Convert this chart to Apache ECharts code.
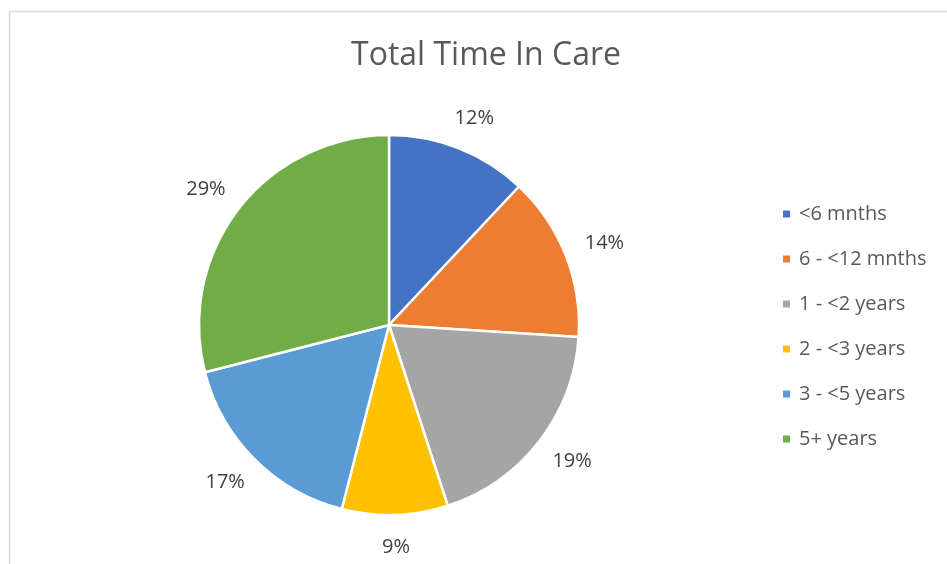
<!DOCTYPE html>
<html>
<head>
<meta charset="utf-8">
<script src="https://cdn.jsdelivr.net/npm/echarts@6/dist/echarts.min.js"></script>
<style>
html,body{margin:0;padding:0;background:#fff;}
#chart{width:947px;height:564px;}
</style>
</head>
<body>
<div id="chart"></div>
<script>
const categories = ['<6 mnths', '6 - <12 mnths', '1 - <2 years', '2 - <3 years', '3 - <5 years', '5+ years'];
const values = [12, 14, 19, 9, 17, 29];
const colors = ['#4472C4', '#ED7D31', '#A5A5A5', '#FFC000', '#5B9BD5', '#70AD47'];
const titleText = 'Total Time In Care';

const FONT = '"Open Sans", sans-serif';
const CX = 389, CY = 325, R = 190, GAP = 22;
const total = values.reduce((a, b) => a + b, 0);

function labelPos(params) {
  const i = params.dataIndex;
  let before = 0;
  for (let k = 0; k < i; k++) before += values[k];
  const theta = (before + values[i] / 2) / total * 2 * Math.PI; // clockwise from top
  const s = Math.sin(theta), c = Math.cos(theta);
  const w = params.labelRect.width, h = params.labelRect.height;
  const d = R + GAP;
  return {
    x: CX + s * d + s * w / 2,
    y: CY - c * d - c * h / 2,
    align: 'center',
    verticalAlign: 'middle'
  };
}

const chart = echarts.init(document.getElementById('chart'), null, {renderer: 'canvas'});
chart.setOption({
  animation: false,
  backgroundColor: '#fff',
  graphic: [{
    type: 'rect', left: 7, top: 9, silent: true,
    shape: {width: 1000, height: 700},
    style: {fill: 'none', stroke: '#d9d9d9', lineWidth: 1.5}
  }],
  title: {
    text: titleText, left: 481, top: 35, textAlign: 'center',
    textStyle: {fontFamily: FONT, fontSize: 32, fontWeight: 'normal', color: '#595959'}
  },
  legend: {
    orient: 'vertical', left: 776, top: 198, padding: 5,
    icon: 'rect', itemWidth: 9, itemHeight: 9, itemGap: 23,
    textStyle: {fontFamily: FONT, fontSize: 20, color: '#595959', lineHeight: 22, padding: [0, 0, 0, 3]},
    data: categories
  },
  series: [{
    type: 'pie',
    center: [CX, CY],
    radius: R,
    startAngle: 90,
    clockwise: true,
    avoidLabelOverlap: false,
    itemStyle: {borderColor: '#fff', borderWidth: 2.5},
    label: {
      show: true, position: 'outside',
      formatter: p => p.value + '%',
      fontFamily: FONT, fontSize: 20, color: '#404040'
    },
    labelLine: {show: false},
    labelLayout: labelPos,
    data: categories.map((c, i) => ({name: c, value: values[i], itemStyle: {color: colors[i]}}))
  }]
});
</script>
</body>
</html>
